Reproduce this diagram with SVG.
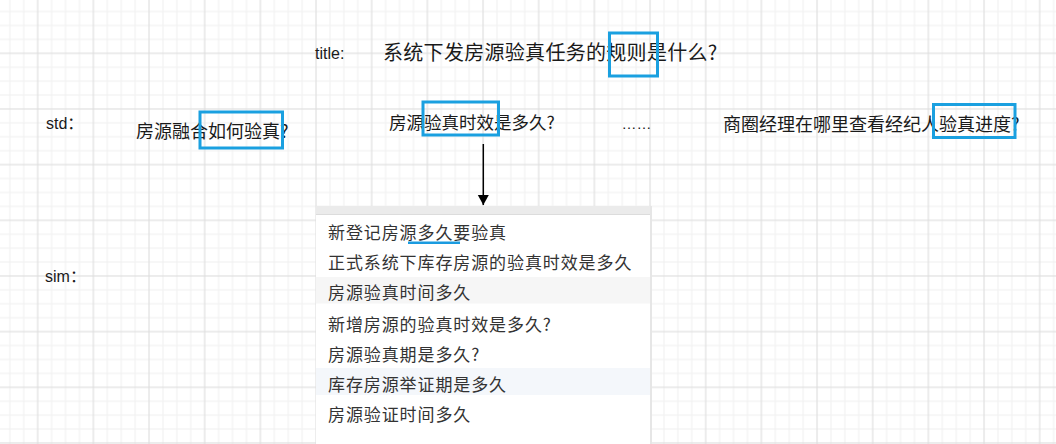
<svg xmlns="http://www.w3.org/2000/svg" width="1056" height="444" viewBox="0 0 1056 444">
<style>
.cjk{font-family:"Noto Sans CJK SC","Noto Sans CJK JP",sans-serif;fill:#1a1a1a}
.lbl{font-family:"Liberation Sans","Noto Sans CJK SC",sans-serif;fill:#1a1a1a;font-size:16px}
.row{font-family:"Noto Sans CJK SC",sans-serif;fill:#333;font-size:17px;letter-spacing:0.9px}
.hl{fill:none;stroke:#1aa0e0;stroke-width:3}
</style>
<defs>
<pattern id="grid" x="37.7" y="53.3" width="55.667" height="55.667" patternUnits="userSpaceOnUse">
<rect x="13.42" y="0" width="1" height="55.667" fill="#f0f0f0"/>
<rect x="27.33" y="0" width="1" height="55.667" fill="#f0f0f0"/>
<rect x="41.25" y="0" width="1" height="55.667" fill="#f0f0f0"/>
<rect x="0" y="13.42" width="55.667" height="1" fill="#f0f0f0"/>
<rect x="0" y="27.33" width="55.667" height="1" fill="#f0f0f0"/>
<rect x="0" y="41.25" width="55.667" height="1" fill="#f0f0f0"/>
<rect x="-0.5" y="0" width="1" height="55.667" fill="#dadada"/>
<rect x="0" y="-0.5" width="55.667" height="1" fill="#dadada"/>
<rect x="55.167" y="0" width="1" height="55.667" fill="#dadada"/>
<rect x="0" y="55.167" width="55.667" height="1" fill="#dadada"/>
</pattern>
<marker id="arr" markerUnits="userSpaceOnUse" markerWidth="12" markerHeight="12" refX="10" refY="5.5" orient="auto">
<path d="M0,0 L10,5.5 L0,11 Z" fill="#000"/>
</marker>
</defs>
<rect width="1056" height="444" fill="#fff"/>
<rect width="1056" height="444" fill="url(#grid)"/>

<g id="labels">
<text class="lbl" x="315" y="59">title:</text>
<text class="lbl" x="46" y="129">std：</text>
<text class="lbl" x="45" y="282">sim：</text>
</g>

<g id="title">
<text class="cjk" x="383" y="60" font-size="20" letter-spacing="0.3">系统下发房源验真任务的规则是什么?</text>
<rect class="hl" x="609.5" y="33" width="48" height="43"/>
</g>

<g id="std1">
<text class="cjk" x="136" y="138" font-size="18">房源融合如何验真?</text>
<rect class="hl" x="200" y="112" width="82.5" height="36"/>
</g>

<g id="std2">
<text class="cjk" x="389" y="128.5" font-size="17.5">房源验真时效是多久?</text>
<rect class="hl" x="423" y="102" width="75.5" height="33"/>
</g>

<g id="ellipsis">
<text x="621.5" y="129" font-family="Liberation Sans, sans-serif" font-size="15" fill="#1a1a1a">……</text>
</g>

<g id="std3">
<text class="cjk" x="723" y="130.5" font-size="18">商圈经理在哪里查看经纪人验真进度?</text>
<rect class="hl" x="933.5" y="104.5" width="81.5" height="33"/>
</g>

<g id="connectors">
<line x1="483.3" y1="144" x2="483.3" y2="205" stroke="#000" stroke-width="1.5" marker-end="url(#arr)"/>
</g>

<g id="sim-panel">
<rect x="316" y="206" width="334" height="238" fill="#fff"/>
<rect x="316" y="206" width="334" height="9" fill="#ebebeb"/>
<rect x="316" y="214" width="334" height="1" fill="#dcdcdc"/>
<rect x="650" y="206" width="2" height="238" fill="#e6e6e6"/>
<rect x="316" y="277" width="334" height="26.5" fill="#f6f6f6"/>
<rect x="316" y="368" width="334" height="27" fill="#f4f7fb"/>
<text class="row" x="328" y="238.5">新登记房源多久要验真</text>
<rect x="408" y="241.5" width="52" height="2.5" fill="#1a9be0"/>
<text class="row" x="328" y="269">正式系统下库存房源的验真时效是多久</text>
<text class="row" x="328" y="299">房源验真时间多久</text>
<text class="row" x="328" y="330.5">新增房源的验真时效是多久?</text>
<text class="row" x="328" y="360.5">房源验真期是多久?</text>
<text class="row" x="328" y="391">库存房源举证期是多久</text>
<text class="row" x="328" y="420.5">房源验证时间多久</text>
</g>
</svg>
